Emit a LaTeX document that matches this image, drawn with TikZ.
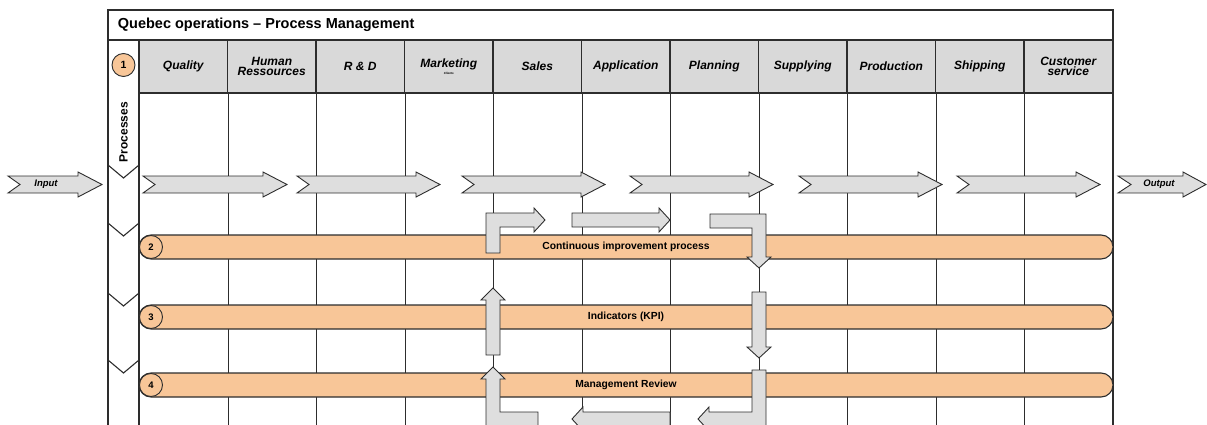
\documentclass[tikz,border=0pt]{standalone}
\usepackage{fontspec}
\setmainfont{Liberation Sans}
\usetikzlibrary{positioning,calc}
\definecolor{barorange}{RGB}{248,198,152}
\definecolor{headgrey}{RGB}{217,217,217}
\definecolor{arrowgrey}{RGB}{222,222,222}
\definecolor{linegrey}{RGB}{45,45,45}

\begin{document}
\begin{tikzpicture}[x=1pt, y=-1pt, line width=1.1pt]
            % Estilos
            \tikzstyle{headcell}=[draw=linegrey, fill=headgrey, minimum width=88.5pt, minimum height=53pt, inner sep=1pt, align=center, font=\fontsize{12}{10.5}\selectfont\bfseries\itshape]
            \tikzstyle{lanebar}=[draw=linegrey, fill=barorange, rounded corners=12pt, minimum width=974pt, minimum height=24pt, inner sep=0pt, font=\fontsize{10.3}{11}\selectfont\bfseries]
            \tikzstyle{numdot}=[circle, draw=linegrey, fill=barorange, minimum size=23pt, inner sep=0pt, line width=0.9pt, font=\fontsize{9.5}{9.5}\selectfont\bfseries]
            \tikzstyle{flowarrow}=[draw=linegrey, fill=arrowgrey, line width=0.9pt]
            \tikzstyle{sepline}=[draw=linegrey, line width=1.1pt]
            \tikzstyle{iolabel}=[inner sep=0pt, font=\fontsize{9.5}{9.5}\selectfont\bfseries\itshape]

            \useasboundingbox (0,0) rectangle (1207,425);

            % Cadre et titre
            \draw[sepline] (108,425) -- (108,10) -- (1113,10) -- (1113,425);
            \draw[sepline] (108,40) -- (1113,40);
            \draw[sepline] (139,40) -- (139,425);
            \node[anchor=west, font=\fontsize{14.5}{15}\selectfont\bfseries] (title) at (114,25) {Quebec operations -- Process Management};

            % En-tetes
            \foreach \i/\t in {1/Quality, 2/{Human\\Ressources}, 3/{R \& D}, 4/{Marketing\\[-3pt]{\fontsize{3}{3}\selectfont Clients}}, 5/Sales, 6/Application, 7/Planning, 8/Supplying, 9/Production, 10/Shipping, 11/{Customer\\service}}
                \node[headcell] (h\i) at ({139+88.5*(\i-0.5)},66.5) {\t};
            \foreach \i in {1,...,10}
                \draw[sepline] (h\i.south east) -- ++(0,332);

            % Colonne processus
            \foreach \y in {165,223,293,360}
                \draw[sepline] (108,\y) -- (123.5,{\y+13}) -- (139,\y);
            \node[numdot, font=\fontsize{10.5}{10.5}\selectfont\bfseries] (n1) at (123.5,65) {1};
            \node[rotate=90, font=\fontsize{12}{12}\selectfont\bfseries] (proc) at (123.5,132) {Processes};

            % Fleches du processus
            \foreach \a/\b in {143/287, 297/440, 462/605, 630/773, 799/942, 957/1100}
                \draw[flowarrow] (\a,176) -- ({\b-24},176) -- ({\b-24},172) -- (\b,184.5) -- ({\b-24},197) -- ({\b-24},193) -- (\a,193) -- ({\a+12},184.5) -- cycle;
            \draw[flowarrow] (8,176) -- (78,176) -- (78,172) -- (102,184.5) -- (78,197) -- (78,193) -- (8,193) -- (20,184.5) -- cycle;
            \node[iolabel] (inp) at (46,184.5) {Input};
            \draw[flowarrow] (1118,176) -- (1183,176) -- (1183,172) -- (1206,184.5) -- (1183,197) -- (1183,193) -- (1118,193) -- (1131,184.5) -- cycle;
            \node[iolabel] (outp) at (1159,184.5) {Output};

            % Bandes
            \node[lanebar] (b2) at (626,247) {Continuous improvement process};
            \node[lanebar] (b3) at (626,317) {Indicators (KPI)};
            \node[lanebar] (b4) at (626,385) {Management Review};
            \node[numdot] (n2) at (151,247) {2};
            \node[numdot] (n3) at (151,317) {3};
            \node[numdot] (n4) at (151,385) {4};

            % Cycle d'amelioration
            \draw[flowarrow] (486,253) -- (486,213) -- (534,213) -- (534,208) -- (545,220) -- (534,232) -- (534,227) -- (500,227) -- (500,253) -- cycle;
            \draw[flowarrow] (572,213) -- (659,213) -- (659,208) -- (670,220) -- (659,232) -- (659,227) -- (572,227) -- cycle;
            \draw[flowarrow] (710,214) -- (766,214) -- (766,257) -- (771,257) -- (759,268) -- (747,257) -- (752,257) -- (752,228) -- (710,228) -- cycle;
            \draw[flowarrow] (752,292) -- (766,292) -- (766,347) -- (771,347) -- (759,358) -- (747,347) -- (752,347) -- cycle;
            \draw[flowarrow] (752,370) -- (766,370) -- (766,426) -- (709,426) -- (709,431) -- (698,419) -- (709,407) -- (709,412) -- (752,412) -- cycle;
            \draw[flowarrow] (670,412) -- (583,412) -- (583,407) -- (572,419) -- (583,431) -- (583,426) -- (670,426) -- cycle;
            \draw[flowarrow] (538,412) -- (500,412) -- (500,379) -- (505,379) -- (493,367) -- (481,379) -- (486,379) -- (486,426) -- (538,426) -- cycle;
            \draw[flowarrow] (486,355) -- (486,300) -- (481,300) -- (493,288) -- (505,300) -- (500,300) -- (500,355) -- cycle;
        \end{tikzpicture}
\end{document}
